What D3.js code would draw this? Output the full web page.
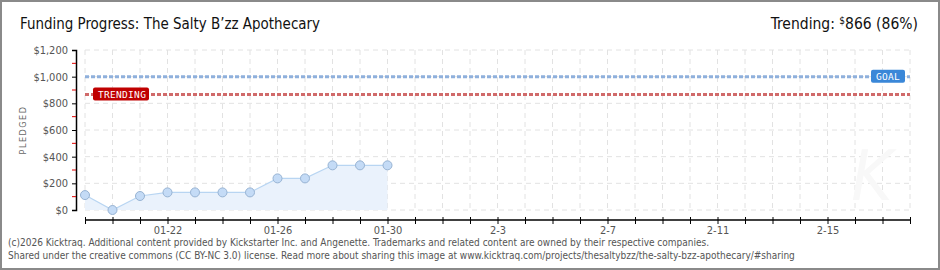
<!DOCTYPE html>
<html>
<head>
<meta charset="utf-8">
<script src="https://cdn.jsdelivr.net/npm/d3@7"></script>
<style>
body { margin:0; background:#fff; }
svg { display:block; font-family:"DejaVu Sans Condensed","DejaVu Sans",sans-serif; font-stretch:condensed; }
</style>
</head>
<body>
<svg id="chart" width="940" height="270"></svg>
<script>
// data
const days = ["2026-01-19","2026-01-20","2026-01-21","2026-01-22","2026-01-23","2026-01-24",
              "2026-01-25","2026-01-26","2026-01-27","2026-01-28","2026-01-29","2026-01-30"];
const pledged = [112, 0, 105, 132, 132, 132, 132, 237, 237, 335, 335, 335];
const yTicks = [0, 200, 400, 600, 800, 1000, 1200];
const goal = 1000;
const trending = 866;
const startDay = "2026-01-19", endDay = "2026-02-18";

const parse = d3.timeParse("%Y-%m-%d");
const data = days.map((d,i)=>({date:parse(d), v:pledged[i]}));

const svg = d3.select("#chart");
const W = 940, H = 270;
const pL = 85, pR = 910, pT = 50, pB = 210;

const x = d3.scaleTime().domain([parse(startDay), parse(endDay)]).range([pL, pR]);
const y = d3.scaleLinear().domain([0, 1200]).range([pB, pT]);

// frame
svg.append("rect").attr("x",1).attr("y",1).attr("width",W-2).attr("height",H-2)
   .attr("fill","none").attr("stroke","#8a8a8a").attr("stroke-width",2);

// title
svg.append("text").attr("x",20).attr("y",29).attr("font-size",16.5).attr("fill","#111")
   .attr("textLength",300).attr("lengthAdjust","spacingAndGlyphs")
   .text("Funding Progress: The Salty B’zz Apothecary");
const tr = svg.append("text").attr("x",918).attr("y",29).attr("font-size",15.5)
   .attr("fill","#111").attr("text-anchor","end");
tr.append("tspan").text("Trending: ");
tr.append("tspan").attr("font-size",10).attr("dy",-5).text("$");
tr.append("tspan").attr("dy",5).text(`${trending} (${Math.floor(trending/goal*100)}%)`);

// grid
const allDays = d3.timeDay.range(parse(startDay), d3.timeDay.offset(parse(endDay),1));
svg.append("g").selectAll("line").data(allDays).join("line")
   .attr("x1",d=>x(d)).attr("x2",d=>x(d)).attr("y1",pT).attr("y2",pB)
   .attr("stroke","#e2e2e2").attr("stroke-dasharray","5,4");
svg.append("g").selectAll("line").data(yTicks).join("line")
   .attr("x1",pL).attr("x2",pR).attr("y1",d=>y(d)).attr("y2",d=>y(d))
   .attr("stroke","#e2e2e2").attr("stroke-dasharray","5,4");

// watermark
svg.append("text").attr("x",872).attr("y",200).attr("font-size",70).attr("font-style","italic")
   .attr("text-anchor","middle").attr("fill","#f8f8f8").text("K");

// area + line
svg.append("path").datum(data)
   .attr("d", d3.area().x(d=>x(d.date)).y0(pB).y1(d=>y(d.v)))
   .attr("fill","#eaf2fc");
svg.append("path").datum(data)
   .attr("d", d3.line().x(d=>x(d.date)).y(d=>y(d.v)))
   .attr("fill","none").attr("stroke","#b8d5f2").attr("stroke-width",1.2);

// goal and trending lines
function refLine(v, col){
  svg.append("line").attr("x1",pL).attr("x2",pR).attr("y1",y(v)).attr("y2",y(v))
     .attr("stroke",col).attr("stroke-width",3).attr("stroke-dasharray","4,2");
}
refLine(goal, "#8fb0dc");
refLine(trending, "#d06a6a");

function badge(xp, v, txt, col, w){
  const g = svg.append("g").attr("transform",`translate(${xp},${y(v)-7})`);
  g.append("rect").attr("width",w).attr("height",13).attr("rx",2).attr("fill",col);
  g.append("text").attr("x",5).attr("y",10).attr("font-size",9.5).attr("fill","#fff")
   .attr("font-family","DejaVu Sans Mono, monospace").attr("letter-spacing",0.3).text(txt);
}
badge(93, trending, "TRENDING", "#c00000", 56);
badge(871, goal, "GOAL", "#3a87d8", 34);

// points
svg.append("g").selectAll("circle").data(data).join("circle")
   .attr("cx",d=>x(d.date)).attr("cy",d=>y(d.v)).attr("r",4.5)
   .attr("fill","#c4dbf6").attr("stroke","#97b3d3").attr("stroke-width",1);

// y axis
const yAxisG = svg.append("g").attr("transform","translate(76,0)")
   .call(d3.axisLeft(y).tickValues(yTicks).tickSize(4).tickFormat(d=>"$"+d3.format(",")(d)));
yAxisG.select(".domain").attr("stroke","#000").attr("stroke-width",1.5);
yAxisG.selectAll(".tick text").attr("font-size",11).attr("fill","#555").attr("x",-8)
   .attr("font-family",null);
svg.append("g").selectAll("line").data(d3.range(100,1200,200)).join("line")
   .attr("x1",72).attr("x2",76).attr("y1",d=>y(d)).attr("y2",d=>y(d))
   .attr("stroke","#e00000");

// x axis
const xAxisG = svg.append("g").attr("transform","translate(0,220)")
   .call(d3.axisBottom(x).tickValues(allDays).tickSize(4)
     .tickFormat(d=>{
       const i = d3.timeDay.count(parse(startDay), d);
       if (i % 4 !== 3) return "";
       return d.getMonth()===0 ? d3.timeFormat("%m-%d")(d) : d3.timeFormat("%-m-%-d")(d);
     }));
xAxisG.attr("font-family",null);
xAxisG.select(".domain").attr("stroke","#000").attr("stroke-width",1.5).attr("d",`M${pL},0H${pR}`);
xAxisG.selectAll(".tick line").attr("stroke","#000").attr("y1",-3).attr("y2",4);
xAxisG.selectAll(".tick text").attr("font-size",11).attr("fill","#555").attr("y",6);
yAxisG.attr("font-family",null);

// y label
svg.append("text").attr("transform","translate(26,130) rotate(-90)")
   .attr("text-anchor","middle").attr("font-size",9).attr("fill","#666")
   .attr("letter-spacing",1.5).text("PLEDGED");

// footer
svg.append("text").attr("x",8).attr("y",246).attr("font-size",10).attr("fill","#555")
   .text("(c)2026 Kicktraq. Additional content provided by Kickstarter Inc. and Angenette. Trademarks and related content are owned by their respective companies.");
svg.append("text").attr("x",8).attr("y",259).attr("font-size",10).attr("fill","#555")
   .text("Shared under the creative commons (CC BY-NC 3.0) license. Read more about sharing this image at www.kicktraq.com/projects/thesaltybzz/the-salty-bzz-apothecary/#sharing");
</script>
</body>
</html>
